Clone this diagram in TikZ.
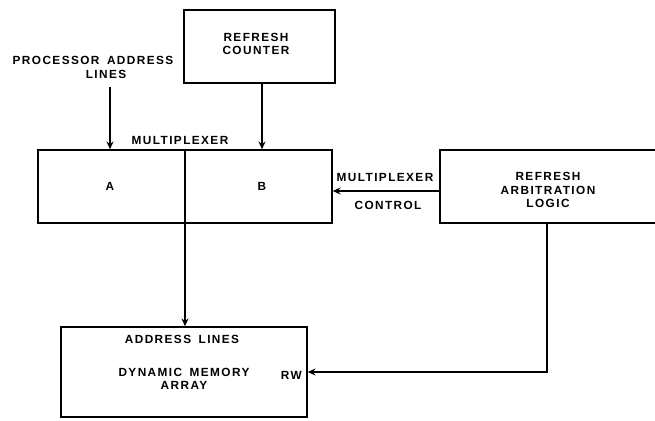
\documentclass[tikz,border=0pt]{standalone}
\usepackage{fontspec}
\newfontfamily\lblfont[LetterSpace=12,WordSpace=1.6]{Liberation Sans}
\usetikzlibrary{arrows.meta,calc}
\begin{document}
\begin{tikzpicture}[x=0.025cm,y=-0.025cm,
  box/.style={draw,line width=1.1pt,rectangle,inner sep=0pt,align=center},
  lbl/.style={font=\lblfont\bfseries\fontsize{8.4}{9.6}\selectfont,inner sep=0pt,align=center},
  arr/.style={line width=1.1pt,-{Stealth[length=5.5pt,width=5pt]}},
  wire/.style={line width=1.1pt}]
\useasboundingbox (0,0) rectangle (655,420);
% boxes
\node[box,minimum width=3.775cm,minimum height=1.825cm] (rc) at (259.5,46.5) {};
\node[lbl] (rct) at (256,44) {REFRESH\\COUNTER};
\node[box,minimum width=7.35cm,minimum height=1.825cm] (mux) at (185,186.5) {};
\draw[wire] (mux.north) -- (mux.south);
\node[lbl] (ma) at (110,186) {A};
\node[lbl] (mb) at (262,186) {B};
\node[lbl] (mt) at (180,140) {MULTIPLEXER};
\node[box,minimum width=5.5cm,minimum height=1.825cm] (arb) at (550,186.5) {};
\node[lbl] (arbt) at (548,190) {REFRESH\\ARBITRATION\\LOGIC};
\node[box,minimum width=6.15cm,minimum height=2.25cm] (mem) at (184,372) {};
\node[lbl] (memt1) at (182,339) {ADDRESS LINES};
\node[lbl] (memt2) at (184,379) {DYNAMIC MEMORY\\ARRAY};
\node[lbl,anchor=east] (rw) at (302,375) {RW};
% labels
\node[lbl] (pal1) at (93,60) {PROCESSOR ADDRESS};
\node[lbl] (pal2) at (106,74) {LINES};
\node[lbl] (mc1) at (385,177) {MULTIPLEXER};
\node[lbl] (mc2) at (388,205) {CONTROL};
% connectors
\coordinate (pin) at (110,87);
\draw[arr] (pin) -- (pin |- mux.north);
\coordinate (rcout) at (262,83);
\draw[arr] (rcout) -- (rcout |- mux.north);
\coordinate (mcin) at (440,191);
\draw[arr] (mcin) -- (mcin -| mux.east);
\draw[arr] (mux.south) -- (mux.south |- mem.north);
\coordinate (rwout) at (547,223);
\draw[arr] (rwout) |- (mem.east);
\end{tikzpicture}
\end{document}
